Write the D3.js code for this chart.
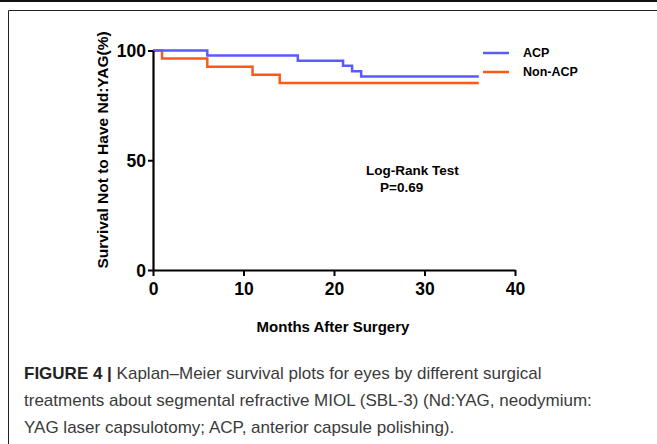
<html lang="en">
<head>
    <meta charset="UTF-8">
    <title>Kaplan-Meier</title>
    <script src="https://d3js.org/d3.v7.min.js"></script>
    <style>
        body { margin: 0; background: white; }
        svg { display: block; }
    </style>
</head>
<body>
    <script>
        // months at which each step happens, and survival (%) after it
        const acpMonths = [0, 6, 16, 21, 22, 23, 36];
        const acpSurvival = [100, 97.7, 95.3, 93.0, 90.6, 88.2, 88.2];
        const nonAcpMonths = [0, 1, 6, 11, 14, 36];
        const nonAcpSurvival = [100, 96.3, 92.6, 88.9, 85.2, 85.2];
        const xTicks = [0, 10, 20, 30, 40];
        const yTicks = [0, 50, 100];
        const seriesNames = ['ACP', 'Non-ACP'];
        const captionLines = [
            ['FIGURE 4 | ', 'Kaplan\u2013Meier survival plots for eyes by different surgical'],
            ['', 'treatments about segmental refractive MIOL (SBL-3) (Nd:YAG, neodymium:'],
            ['', 'YAG laser capsulotomy; ACP, anterior capsule polishing).']
        ];

        const w = 657, h = 444;
        const font = 'Liberation Sans, Arial, sans-serif';
        const color = d3.scaleOrdinal(seriesNames, ['#5a5aff', '#ff5a14']);

        const xScale = d3.scaleLinear().domain([0, 40]).range([153, 515]);
        const yScale = d3.scaleLinear().domain([0, 100]).range([270, 50.5]);

        const svg = d3.select('body').append('svg')
            .attr('width', w)
            .attr('height', h);

        // page frame
        svg.append('line').attr('x1', 0).attr('x2', w).attr('y1', 1).attr('y2', 1)
            .attr('stroke', '#111').attr('stroke-width', 2);
        svg.append('path')
            .attr('d', `M8.5,${h}V10.5H${w}`)
            .attr('fill', 'none').attr('stroke', '#222').attr('stroke-width', 1);

        const series = [
            {name: 'ACP', pts: acpMonths.map((m, i) => [m, acpSurvival[i]])},
            {name: 'Non-ACP', pts: nonAcpMonths.map((m, i) => [m, nonAcpSurvival[i]])}
        ];

        const line = d3.line()
            .x(d => xScale(d[0]))
            .y(d => yScale(d[1]))
            .curve(d3.curveStepAfter);

        svg.selectAll('.km')
            .data(series.slice().reverse())
            .enter()
            .append('path')
            .attr('class', 'km')
            .attr('d', d => line(d.pts))
            .attr('fill', 'none')
            .attr('stroke', d => color(d.name))
            .attr('stroke-width', 2.5);

        const xAxis = d3.axisBottom(xScale).tickValues(xTicks).tickSize(6).tickSizeOuter(0).tickPadding(3);
        const gx = svg.append('g')
            .attr('transform', 'translate(0,270)')
            .call(xAxis);

        const yAxis = d3.axisLeft(yScale).tickValues(yTicks).tickSize(5).tickSizeOuter(0).tickPadding(2);
        const gy = svg.append('g')
            .attr('transform', 'translate(153,0)')
            .call(yAxis);

        [gx, gy].forEach(g => {
            g.select('.domain').attr('stroke', '#000').attr('stroke-width', 2.2);
            g.selectAll('.tick line').attr('stroke', '#000').attr('stroke-width', 2);
            g.selectAll('.tick text')
                .attr('fill', '#000')
                .style('font-family', font)
                .style('font-weight', 'bold')
                .style('font-size', '17.5px');
        });
        gx.selectAll('.tick text').attr('dy', '0.9em');
        gy.selectAll('.tick text').attr('dy', '0.35em');

        svg.append('text')
            .attr('x', 333)
            .attr('y', 332)
            .attr('text-anchor', 'middle')
            .style('font-family', font)
            .style('font-weight', 'bold')
            .style('font-size', '15px')
            .text('Months After Surgery');

        svg.append('text')
            .attr('transform', 'translate(108,150) rotate(-90)')
            .attr('text-anchor', 'middle')
            .style('font-family', font)
            .style('font-weight', 'bold')
            .style('font-size', '15.5px')
            .text('Survival Not to Have Nd:YAG(%)');

        // legend
        const legend = svg.append('g')
            .selectAll('g')
            .data(seriesNames)
            .enter()
            .append('g')
            .attr('transform', (d, i) => `translate(483,${53 + i * 19})`);
        legend.append('line')
            .attr('x1', 0).attr('x2', 26)
            .attr('stroke', color)
            .attr('stroke-width', 2.5);
        legend.append('text')
            .attr('x', 40)
            .attr('dy', '0.35em')
            .style('font-family', font)
            .style('font-weight', 'bold')
            .style('font-size', '12.5px')
            .text(d => d);

        svg.append('text')
            .attr('x', 366).attr('y', 175)
            .style('font-family', font)
            .style('font-weight', 'bold')
            .style('font-size', '13.5px')
            .text('Log-Rank Test');
        svg.append('text')
            .attr('x', 380).attr('y', 192)
            .style('font-family', font)
            .style('font-weight', 'bold')
            .style('font-size', '13.5px')
            .text('P=0.69');

        // caption
        const cap = svg.append('g')
            .selectAll('text')
            .data(captionLines)
            .enter()
            .append('text')
            .attr('x', 24)
            .attr('y', (d, i) => 379 + i * 27)
            .style('font-family', font)
            .style('font-size', '17px');
        cap.append('tspan')
            .style('font-weight', 'bold')
            .attr('fill', '#222')
            .text(d => d[0]);
        cap.append('tspan')
            .attr('fill', '#3a3a3a')
            .text(d => d[1]);
    </script>
</body>
</html>
